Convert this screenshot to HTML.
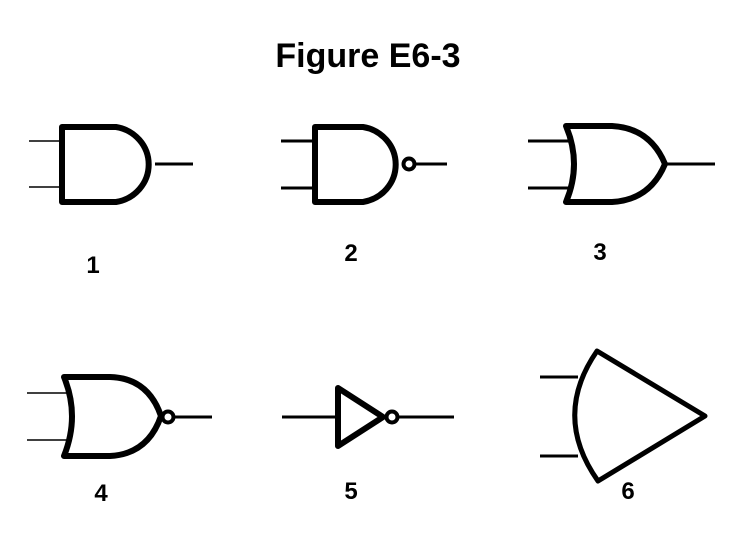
<!DOCTYPE html>
<html><head><style>html,body{margin:0;padding:0;background:#fff;}svg{display:block}</style></head>
<body>
<svg width="748" height="542" viewBox="0 0 748 542" xmlns="http://www.w3.org/2000/svg" font-family="Liberation Sans, Arial, sans-serif">
<rect width="748" height="542" fill="#fff"/>
<text x="368" y="67" font-size="34" font-weight="bold" text-anchor="middle">Figure E6-3</text>
<g fill="none" stroke="#000" stroke-linejoin="round">
<!-- Gate 1 AND -->
<line x1="29" y1="141" x2="60" y2="141" stroke-width="1.5"/>
<line x1="29" y1="187" x2="60" y2="187" stroke-width="1.5"/>
<path d="M62 127 H116 A39 38 0 0 1 116 202 H62 Z" stroke-width="6"/>
<line x1="155" y1="164" x2="193" y2="164" stroke-width="3"/>
<!-- Gate 2 NAND -->
<line x1="281" y1="141" x2="313" y2="141" stroke-width="3"/>
<line x1="281" y1="188" x2="313" y2="188" stroke-width="3"/>
<path d="M315 127 H363 A39 38 0 0 1 363 202 H315 Z" stroke-width="6"/>
<circle cx="409" cy="164" r="5.5" stroke-width="4"/>
<line x1="415" y1="164" x2="447" y2="164" stroke-width="3"/>
<!-- Gate 3 OR -->
<line x1="528" y1="141" x2="572" y2="141" stroke-width="3"/>
<line x1="528" y1="188" x2="572" y2="188" stroke-width="3"/>
<path d="M566 126 Q582 164 566 202 H612 Q650 200 665 164 Q650 128 612 126 Z" stroke-width="6"/>
<line x1="665" y1="164" x2="715" y2="164" stroke-width="3"/>
<!-- Gate 4 NOR -->
<line x1="27" y1="393" x2="70" y2="393" stroke-width="1.5"/>
<line x1="27" y1="440" x2="70" y2="440" stroke-width="1.5"/>
<path d="M64 377 Q80 416 64 456 H110 Q148 454 161 416 Q148 378 110 377 Z" stroke-width="6"/>
<circle cx="168" cy="417" r="5.5" stroke-width="4"/>
<line x1="174" y1="417" x2="212" y2="417" stroke-width="3"/>
<!-- Gate 5 NOT -->
<line x1="282" y1="417" x2="338" y2="417" stroke-width="3"/>
<path d="M338 388 L383 417 L338 446 Z" stroke-width="6"/>
<circle cx="392" cy="417" r="5.5" stroke-width="4"/>
<line x1="398" y1="417" x2="454" y2="417" stroke-width="3"/>
<!-- Gate 6 -->
<line x1="540" y1="377" x2="578" y2="377" stroke-width="3"/>
<line x1="540" y1="456" x2="578" y2="456" stroke-width="3"/>
<path d="M597 351 Q552 416 598 481 L705 416 Z" stroke-width="5"/>
</g>
<g font-size="24" font-weight="bold" text-anchor="middle">
<text x="93" y="273">1</text>
<text x="351" y="261">2</text>
<text x="600" y="260">3</text>
<text x="101" y="501">4</text>
<text x="351" y="499">5</text>
<text x="628" y="499">6</text>
</g>
</svg>
</body></html>
